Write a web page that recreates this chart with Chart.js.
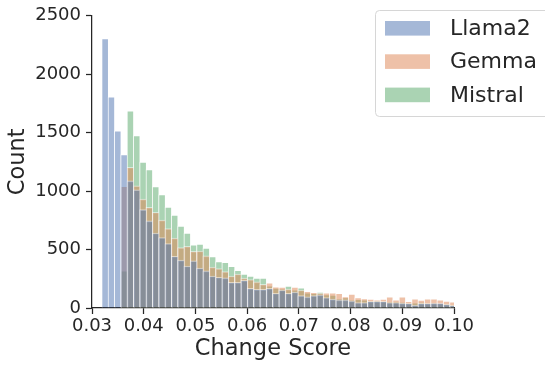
<!DOCTYPE html>
<html>
<head>
<meta charset="utf-8">
<script src="https://cdn.jsdelivr.net/npm/chart.js@4.4.1/dist/chart.umd.min.js"></script>
<style>
  html, body { margin: 0; padding: 0; background: #fff; }
</style>
</head>
<body>
<canvas id="chart" width="545" height="365"></canvas>
<script>
// histogram bins (common to all three models)
const binStart = 0.031865;
const binWidth = 0.001223;

const seriesNames = ['Llama2', 'Gemma', 'Mistral'];

const llama2 = [2306, 1807, 1515, 1313, 1088, 1012, 842, 746, 642, 603,
  552, 443, 409, 359, 404, 342, 317, 274, 263, 258,
  219, 219, 236, 168, 160, 160, 168, 126, 154, 126,
  137, 106, 95, 106, 112, 90, 76, 70, 70, 61,
  47, 47, 56, 56, 56, 47, 47, 42, 39, 25,
  39, 39, 42, 42, 31, 22];

const gemma = [0, 0, 0, 1041, 1204, 1046, 931, 861, 819, 752,
  679, 598, 516, 527, 485, 488, 446, 350, 337, 311,
  274, 291, 255, 244, 224, 202, 216, 182, 180, 162,
  179, 154, 143, 135, 128, 129, 129, 126, 98, 120,
  90, 81, 76, 70, 76, 95, 70, 95, 56, 78,
  67, 78, 78, 70, 59, 53];

const mistral = [0, 0, 0, 317, 1686, 1476, 1248, 1184, 1038, 970,
  864, 794, 701, 642, 541, 547, 513, 440, 398, 390,
  356, 322, 291, 274, 255, 255, 190, 170, 165, 188,
  155, 173, 130, 125, 137, 115, 110, 81, 90, 70,
  75, 70, 62, 65, 60, 55, 55, 50, 45, 45,
  50, 45, 45, 40, 38, 30];

const xTicks = [0.03, 0.04, 0.05, 0.06, 0.07, 0.08, 0.09, 0.10];
const yTicks = [0, 500, 1000, 1500, 2000, 2500];

const colors = ['rgba(76,114,176,0.5)', 'rgba(221,132,82,0.5)', 'rgba(85,168,104,0.5)'];
const ink = '#262626';

const binCenters = llama2.map((_, i) => binStart + (i + 0.5) * binWidth);
const toPoints = arr => arr.map((v, i) => ({ x: binCenters[i], y: v }));

Chart.defaults.font.family = '"DejaVu Sans", sans-serif';

// matplotlib-like legend box in the upper right
const legendBox = {
  id: 'legendBox',
  afterDraw(chart) {
    const ctx = chart.ctx;
    ctx.save();
    ctx.beginPath();
    ctx.roundRect(375.5, 10.5, 200, 106, 4);
    ctx.fillStyle = 'rgba(255,255,255,0.8)';
    ctx.fill();
    ctx.strokeStyle = '#d6d6d6';
    ctx.lineWidth = 1;
    ctx.stroke();
    ctx.font = '22px "DejaVu Sans"';
    ctx.textBaseline = 'middle';
    seriesNames.forEach((name, i) => {
      const cy = 28.3 + i * 33.3;
      ctx.fillStyle = colors[i];
      ctx.fillRect(385, cy - 7.3, 45, 14.6);
      ctx.fillStyle = ink;
      ctx.fillText(name, 450, cy + 1);
    });
    ctx.restore();
  }
};

const axisCommon = {
  grid: { display: true, drawOnChartArea: false, drawTicks: true, tickLength: 6, tickWidth: 1.25, tickColor: ink, offset: false },
  border: { display: true, color: ink, width: 1.25 },
};

new Chart(document.getElementById('chart'), {
  type: 'bar',
  data: {
    datasets: [llama2, gemma, mistral].map((arr, i) => ({
      label: seriesNames[i],
      data: toPoints(arr),
      backgroundColor: colors[i],
      borderColor: 'rgba(255,255,255,0.5)',
      borderWidth: { top: 1, left: 1, right: 0, bottom: 0 },
      borderSkipped: false,
      grouped: false,
      barPercentage: 1,
      categoryPercentage: 1,
    })),
  },
  options: {
    responsive: false,
    animation: false,
    layout: { padding: { top: 11, right: 91, left: 0, bottom: 0 } },
    plugins: { legend: { display: false }, tooltip: { enabled: false } },
    scales: {
      x: {
        ...axisCommon,
        type: 'linear',
        min: 0.03,
        max: 0.10,
        offset: false,
        afterBuildTicks: s => { s.ticks = xTicks.map(v => ({ value: v })); },
        afterFit: s => { s.height = 57; },
        ticks: { callback: v => v.toFixed(2), font: { size: 18 }, color: ink, padding: 2, maxRotation: 0, autoSkip: false },
        title: { display: true, text: 'Change Score', font: { size: 22.5 }, color: ink, padding: { top: 0, bottom: 2 } },
      },
      y: {
        ...axisCommon,
        min: 0,
        max: 2500,
        afterBuildTicks: s => { s.ticks = yTicks.map(v => ({ value: v })); },
        afterFit: s => { s.width = 92; },
        ticks: { callback: v => String(v), font: { size: 18 }, color: ink, padding: 5 },
        title: { display: true, text: 'Count', font: { size: 22.5 }, color: ink, padding: { top: 5, bottom: 0 } },
      },
    },
  },
  plugins: [legendBox],
});
</script>
</body>
</html>
